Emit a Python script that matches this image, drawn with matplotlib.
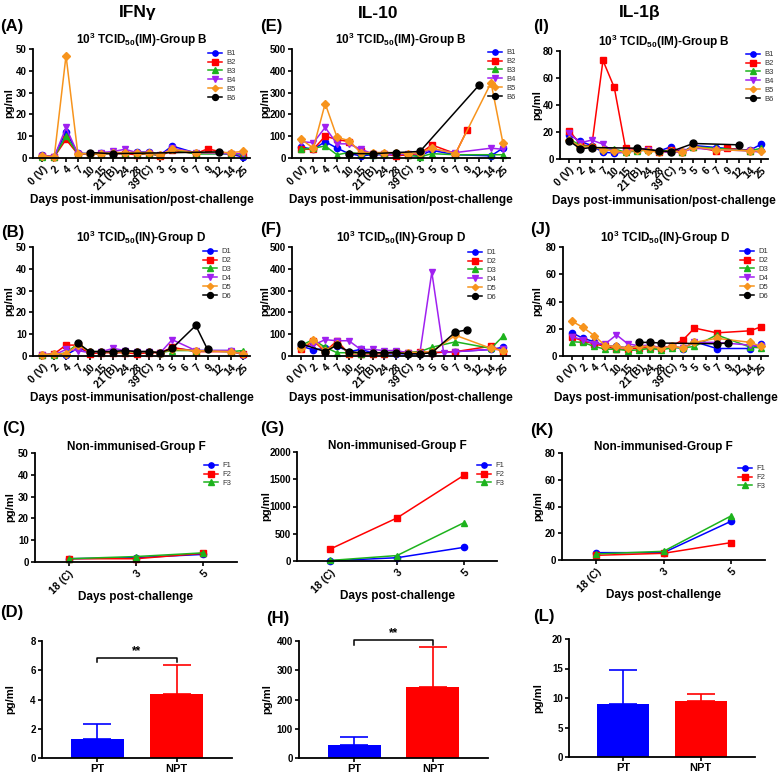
import numpy as np
import matplotlib
matplotlib.use("Agg")
import matplotlib.pyplot as plt

plt.rcParams["font.family"] = ["Liberation Sans", "DejaVu Sans"]
plt.rcParams["font.weight"] = "bold"
plt.rcParams["mathtext.default"] = "regular"

n = np.nan

days = ["0 (V)", "2", "4", "7", "10", "15", "21 (B)", "24", "28", "39 (C)",
        "3", "5", "6", "7", "9", "12", "14", "25"]
days_f = ["18 (C)", "3", "5"]

# ---- IFN-gamma ----
ifn_B = {
    "B1": [1.2, 0.6, 12, 2.2, 2, 2.2, 2.5, 2.3, 2.7, 2.7, 1.5, 5.5, n, 2.3, n, n, 1.8, 0.4],
    "B2": [1, 0.5, 8.5, 1.8, 1.8, 1.8, 2, 2, 1.5, 2, 1, 3.5, n, 2, 4.2, n, 1.8, 1.5],
    "B3": [0.3, 0.5, 10, 2, 2, 2, 2, 2.5, 2, 2, 1.2, 4, n, 1.8, n, n, 2, 1.5],
    "B4": [1, 0.5, 14, 2, 2, 2.5, 3, 4, 2.5, 2.5, 1.5, 4.5, n, 2.5, n, n, 2, 2],
    "B5": [1, 0.5, 47, 2, 2, 2, 2.5, 2.5, 2.5, 2.5, 1.5, 4, n, 2.5, n, n, 2.5, 3],
    "B6": [n, n, n, n, 2.5, n, 2, n, n, n, n, n, n, n, n, 2.8, n, n],
}
ifn_D = {
    "D1": [0.5, 1, 0.5, 3.5, 2, 2, 2, 2.5, 2, 2, 1.5, 3.5, n, 2.5, n, n, 2.5, 0.5],
    "D2": [0.5, 1, 5, 5, 1, 1.5, 1.5, 1.5, 1, 1.5, 1.5, 4, n, 2, n, n, 2, 1],
    "D3": [0.3, 0.5, 1.5, 5.5, 2, 2, 2, 2, 2, 2, 1.5, 2.5, n, 2.5, n, n, 2, 2.5],
    "D4": [0.5, 0.5, 3, 2.5, 1.5, 2, 3.5, 2.5, 2, 2, 1.5, 7.5, n, 2.5, n, n, 2.5, 0.5],
    "D5": [0.5, 1, 1, 5, 2, 2, 2, 2, 2, 2, 1.5, 3, n, 2.5, n, n, 2, 1],
    "D6": [n, n, n, 6, 2, 2, 2, 2.5, 2, 2, 1.5, 3.5, n, 14, 3, n, n, n],
}
ifn_F = {"F1": [1.5, 2, 3.5], "F2": [1.5, 1.5, 4], "F3": [1.5, 2.5, 4.2]}
ifn_bar = [1.3, 4.35]
ifn_err = [1.0, 2.0]

# ---- IL-10 ----
il10_B = {
    "B1": [50, 40, 75, 45, 20, 10, 15, 15, 15, 12, 10, 35, n, 15, n, n, 10, 45],
    "B2": [40, 40, 100, 85, 75, 30, 20, 20, 10, 15, 20, 60, n, 20, 130, n, n, n],
    "B3": [40, 45, 55, 15, 25, 20, 15, 20, 20, 15, 5, 20, n, 15, n, n, 15, 15],
    "B4": [75, 70, 140, 65, 65, 40, 20, 20, 15, 20, 20, 40, n, 25, n, n, 45, 40],
    "B5": [85, 45, 250, 95, 80, 25, 25, 25, 25, 20, 25, 45, n, 20, n, n, 345, 70],
    "B6": [n, n, n, n, 20, n, 20, n, 25, n, 30, n, n, n, n, 335, n, n],
}
il10_D = {
    "D1": [45, 28, 35, 45, 20, 30, 15, 10, 10, 10, 10, 15, n, 20, n, n, 30, 40],
    "D2": [30, 70, 20, 70, 10, 10, 10, 10, 20, 15, 20, 15, n, 20, n, n, 45, 20],
    "D3": [50, 75, 40, 15, 15, 10, 15, 15, 20, 15, 20, 40, n, 65, n, n, 35, 90],
    "D4": [40, 50, 75, 70, 70, 30, 30, 25, 25, 15, 15, 385, 15, 20, n, n, 30, 30],
    "D5": [35, 75, 25, 55, 15, 15, 15, 15, 15, 15, 15, 20, n, 95, n, n, 35, 25],
    "D6": [55, n, 20, 50, 20, 15, 15, 15, 15, 10, 10, 15, n, 110, 120, n, n, n],
}
il10_F = {"F1": [5, 60, 250], "F2": [220, 790, 1570], "F3": [10, 100, 700]}
il10_bar = [45, 243]
il10_err = [27, 137]

# ---- IL-1beta ----
il1b_B = {
    "B1": [18, 13, 10, 5, 4.5, 5, 7, 6.5, 6, 9, 5, 10, n, 8.5, n, n, 6.5, 11],
    "B2": [21, 11, 9, 73, 53, 8, 7, 7.5, 5, 7, 5, 9, n, 6, 8, n, 6, n],
    "B3": [15, 10, 9, 7.5, 7.5, 5, 6, 6.5, 6, 6, 5, 9, n, 8, n, n, 6, 8],
    "B4": [19, 12, 14, 11, 5, 5, 7, 6.5, 5, 5, 5, 8, n, 7, n, n, 6, 5],
    "B5": [14, 9, 9, 7, 6, 5, 7, 6, 5, 6, 5, 9, n, 7, n, n, 6, 6],
    "B6": [13.5, 7.5, 8.5, n, n, n, 8, n, 6, 5.5, n, 11.5, n, n, n, 10.5, n, n],
}
il1b_D = {
    "D1": [17, 13, 10.5, 7.5, 7, 6, 7.5, 6.5, 6, 7, 5.5, 10.5, n, 5.5, n, n, 5.5, 8.5],
    "D2": [14, 11, 9, 7, 5, 5, 6, 6, 6, 7.5, 12, 20.5, n, 17, n, n, 18.5, 21.5],
    "D3": [10.5, 10, 7, 5, 5, 4, 4.5, 5.5, 4.5, 6, 6, 7, n, 15.5, n, n, 6.5, 6],
    "D4": [14, 12, 9, 9, 15.5, 9, 7.5, 8, 6, 7, 6, 10, n, 10, n, n, 8, 7],
    "D5": [25.5, 21, 15, 7.5, 7, 6, 7, 7, 6, 7, 6, 10, n, 13, n, n, 10, 7],
    "D6": [n, n, n, n, n, n, 10, 10, 9.5, n, n, n, n, 9, 9.5, n, n, n],
}
il1b_F = {"F1": [5.5, 5.5, 29], "F2": [3.5, 5, 13], "F3": [4.5, 6.5, 33]}
il1b_bar = [9.0, 9.5]
il1b_err = [5.7, 1.1]

bar_groups = ["PT", "NPT"]

colors = ["#0000ff", "#ff0000", "#1db31d", "#a020f0", "#f7941d", "#000000"]
markers = ["o", "s", "^", "v", "D", "o"]
msizes = [4.5, 4.5, 4.5, 4.5, 3.8, 5]

fig = plt.figure(figsize=(7.78, 7.78), dpi=100)
W = H = 778.0


def add_ax(x0, y0, x1, y1):
    return fig.add_axes([x0 / W, 1 - y1 / H, (x1 - x0) / W, (y1 - y0) / H])


def style(ax, ymax, step):
    for s in ["top", "right"]:
        ax.spines[s].set_visible(False)
    for s in ["left", "bottom"]:
        ax.spines[s].set_linewidth(1.3)
    ax.set_ylim(0, ymax)
    ax.set_yticks(np.arange(0, ymax + step / 2, step))
    ax.tick_params(width=1.2, length=3, labelsize=7, pad=1.5)
    for t in ax.get_yticklabels():
        t.set_fontweight("bold")


def line_panel(ax, data, labels, ymax, step, title, xlim, ylab_x, xlab, xlab_y, leg_xy):
    x = np.arange(len(labels))
    for i, (name, vals) in enumerate(data.items()):
        y = np.array(vals, dtype=float)
        m = ~np.isnan(y)
        ax.plot(x[m], y[m], color=colors[i], marker=markers[i], ms=msizes[i],
                lw=1.1, label=name, clip_on=False)
    style(ax, ymax, step)
    ax.set_xlim(*xlim)
    ax.set_xticks(x)
    ax.set_xticklabels(labels, rotation=45, ha="right", rotation_mode="anchor",
                       fontsize=7.5, fontweight="bold")
    ax.set_title(title, fontsize=8.5, fontweight="bold", pad=2)
    ax.set_ylabel("pg/ml", fontsize=8, fontweight="bold")
    ax.yaxis.set_label_coords(ylab_x, 0.5)
    ax.set_xlabel(xlab, fontsize=8.5, fontweight="bold")
    ax.xaxis.set_label_coords(0.5, xlab_y)
    lx, ly = leg_xy
    leg = ax.legend(loc="upper left", bbox_to_anchor=((lx - 7) / W, 1 - (ly - 4) / H),
                    bbox_transform=fig.transFigure, frameon=False,
                    fontsize=5.5, handlelength=1.8, labelspacing=0.2,
                    handletextpad=0.6, markerscale=0.85, borderaxespad=0, borderpad=0)
    for t in leg.get_texts():
        t.set_fontweight("normal")
        t.set_color("#333333")


def bar_panel(ax, vals, errs, ymax, step, ylab_x, sig=None):
    x = np.arange(len(bar_groups))
    cols = ["#0000ff", "#ff0000"]
    ax.bar(x, vals, width=0.67, color=cols)
    for i in range(len(x)):
        ax.errorbar(x[i], vals[i], yerr=[[0], [errs[i]]], color=cols[i],
                    capsize=10, elinewidth=1.2, capthick=1.2)
    style(ax, ymax, step)
    ax.set_xlim(-0.7, 1.7)
    ax.set_xticks(x)
    ax.set_xticklabels(bar_groups, fontsize=8, fontweight="bold")
    ax.set_ylabel("pg/ml", fontsize=8, fontweight="bold")
    ax.yaxis.set_label_coords(ylab_x, 0.5)
    if sig is not None:
        yl, tick = sig
        ax.plot([0, 0, 1, 1], [yl - tick, yl, yl, yl - tick], color="black",
                lw=1.1, clip_on=False)
        ax.text(0.5, yl + tick * 0.2, "**", ha="center", va="bottom",
                fontsize=8.5, fontweight="bold")


long_x = (-0.8, 17.6)
xl1 = "Days post-immunisation/post-challenge"
xl2 = "Days post-challenge"
tB = "10$^3$ TCID$_{50}$(IM)-Group B"
tD = "10$^3$ TCID$_{50}$(IN)-Group D"
tF = "Non-immunised-Group F"

axA = add_ax(33, 49, 250, 158)
line_panel(axA, ifn_B, days, 50, 10, tB, long_x, -0.085, xl1, -0.33, (215, 54))
axE = add_ax(292, 49, 510, 158)
line_panel(axE, il10_B, days, 500, 100, tB, long_x, -0.1, xl1, -0.33, (495, 53))
axI = add_ax(560, 51, 768, 159)
line_panel(axI, il1b_B, days, 80, 20, tB, long_x, -0.085, xl1, -0.33, (753, 55))

axB = add_ax(33, 247, 250, 356)
line_panel(axB, ifn_D, days, 50, 10, tD, long_x, -0.085, xl1, -0.33, (210, 252))
axF = add_ax(292, 247, 510, 356)
line_panel(axF, il10_D, days, 500, 100, tD, long_x, -0.1, xl1, -0.33, (475, 253))
axJ = add_ax(563, 247, 768, 356)
line_panel(axJ, il1b_D, days, 80, 20, tD, long_x, -0.1, xl1, -0.33, (747, 252))

axC = add_ax(35, 453, 237, 562)
line_panel(axC, ifn_F, days_f, 50, 10, tF, (-0.5, 2.5), -0.1, xl2, -0.27, (211, 466))
axG = add_ax(297, 452, 497, 561)
line_panel(axG, il10_F, days_f, 2000, 500, tF, (-0.5, 2.5), -0.13, xl2, -0.27, (484, 466))
axK = add_ax(562, 453, 765, 560)
line_panel(axK, il1b_F, days_f, 80, 20, tF, (-0.5, 2.5), -0.094, xl2, -0.27, (745, 469))

axD = add_ax(42, 641, 232, 758)
bar_panel(axD, ifn_bar, ifn_err, 8, 2, -0.14, sig=(6.85, 0.3))
axH = add_ax(299, 641, 488, 758)
bar_panel(axH, il10_bar, il10_err, 400, 100, -0.14, sig=(402, 15))
axL = add_ax(569, 639, 755, 757)
bar_panel(axL, il1b_bar, il1b_err, 20, 5, -0.14)

# column headers
fig.text(138 / W, 1 - 13 / H, "IFNγ", ha="center", va="center", fontsize=12.5, fontweight="bold")
fig.text(378 / W, 1 - 13 / H, "IL-10", ha="center", va="center", fontsize=12.5, fontweight="bold")
fig.text(640 / W, 1 - 13 / H, "IL-1β", ha="center", va="center", fontsize=12.5, fontweight="bold")

# panel letters
letters = [("(A)", 0, 26), ("(E)", 260, 26), ("(I)", 533, 26),
           ("(B)", 1, 233), ("(F)", 260, 230), ("(J)", 530, 230),
           ("(C)", 2, 428), ("(G)", 260, 428), ("(K)", 530, 430),
           ("(D)", 0, 613), ("(H)", 266, 618), ("(L)", 533, 616)]
for txt, px, py in letters:
    fig.text(px / W, 1 - py / H, txt, ha="left", va="center", fontsize=12, fontweight="bold")

fig.savefig("out.png", dpi=100)
